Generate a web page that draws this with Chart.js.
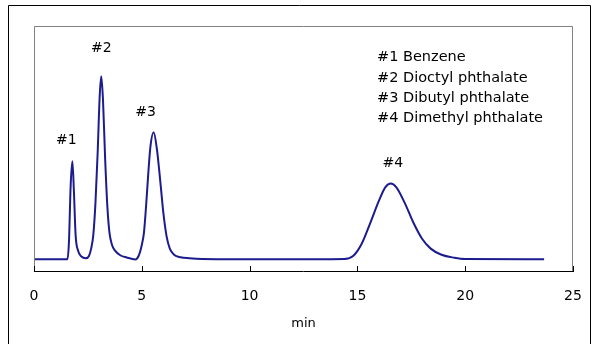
<!DOCTYPE html>
<html>
<head>
<meta charset="utf-8">
<script src="https://cdn.jsdelivr.net/npm/chart.js@4.4.1/dist/chart.umd.min.js"></script>
<style>
  html, body { margin:0; padding:0; background:#fff; }
  #wrap { position:relative; width:592px; height:344px; }
</style>
</head>
<body>
<div id="wrap"><canvas id="chart" width="592" height="344"></canvas></div>
<script>
// retention time (min) and detector signal
const times  = [0, 1.55, 1.62, 1.70, 1.78, 1.85, 1.93, 2.05, 2.2, 2.4, 2.55, 2.65, 2.75, 2.85, 2.95, 3.05, 3.12, 3.2, 3.3, 3.4, 3.5, 3.62, 3.75, 4.0, 4.3, 4.7,
                4.85, 5.0, 5.1, 5.2, 5.3, 5.4, 5.55, 5.7, 5.8, 5.9, 6.0, 6.15, 6.3, 6.5, 6.8, 7.2, 7.8, 10, 13, 14.4,
                14.8, 15.2, 15.6, 16.0, 16.3, 16.55, 16.8, 17.2, 17.6, 18.0, 18.4, 18.9, 19.5, 20.0, 23.66];
const signal = [5.2, 5.2, 12, 35, 45, 33, 15, 8.5, 6.3, 5.6, 6.5, 9.5, 15, 28, 48, 72, 79.6, 70, 46, 27, 16, 11, 8.8, 6.8, 5.9, 5.1,
                6.5, 11, 16, 27, 40, 51, 56.8, 50, 42, 33, 24, 14.5, 9.5, 7.0, 6.0, 5.6, 5.3, 5.2, 5.2, 5.3,
                6.5, 11.5, 20, 29, 34.5, 36, 34.5, 28, 20, 13.5, 9.5, 7.0, 5.8, 5.3, 5.2];
const peakTimes  = [1.78, 3.12, 5.55, 16.55];
const peakLabels = ['#1', '#2', '#3', '#4'];
const compounds  = ['#1 Benzene', '#2 Dioctyl phthalate', '#3 Dibutyl phthalate', '#4 Dimethyl phthalate'];
const xTicks = [0, 5, 10, 15, 20, 25];

const FONT = "'DejaVu Sans', sans-serif";

const decor = {
  id: 'decor',
  beforeDraw(chart) {
    const c = chart.ctx;
    c.save();
    c.fillStyle = '#fff';
    c.fillRect(0, 0, chart.width, chart.height);
    c.strokeStyle = '#000';
    c.lineWidth = 1;
    c.beginPath();
    c.moveTo(8.5, 344); c.lineTo(8.5, 5.5); c.lineTo(590.5, 5.5); c.lineTo(590.5, 344);
    c.stroke();
    c.restore();
  },
  afterDraw(chart) {
    const c = chart.ctx, a = chart.chartArea, x = chart.scales.x, y = chart.scales.y;
    c.save();
    // plot frame
    c.lineWidth = 1;
    c.strokeStyle = '#808080';
    c.beginPath();
    c.moveTo(a.left + 0.5, a.bottom); c.lineTo(a.left + 0.5, a.top + 0.5);
    c.lineTo(a.right - 0.5, a.top + 0.5); c.lineTo(a.right - 0.5, a.bottom);
    c.stroke();
    c.strokeStyle = '#000';
    c.beginPath();
    c.moveTo(a.left, a.bottom - 0.5); c.lineTo(a.right, a.bottom - 0.5);
    xTicks.forEach(t => {
      const px = Math.round(x.getPixelForValue(t)) + 0.5;
      c.moveTo(px, a.bottom); c.lineTo(px, a.bottom - 6);
    });
    c.stroke();
    // peak labels
    const offs = [[-6, -21], [0, -28], [-8, -20], [2, -20]];
    c.fillStyle = '#000';
    c.font = '14px ' + FONT;
    c.textAlign = 'center';
    c.textBaseline = 'middle';
    peakTimes.forEach((t, i) => {
      const k = times.indexOf(t);
      c.fillText(peakLabels[i], x.getPixelForValue(t) + offs[i][0], y.getPixelForValue(signal[k]) + offs[i][1]);
    });
    // compound list
    c.textAlign = 'left';
    c.font = '14.5px ' + FONT;
    compounds.forEach((s, i) => c.fillText(s, 377, 57.5 + i * 20.3));
    c.restore();
  }
};

new Chart(document.getElementById('chart'), {
  type: 'line',
  data: {
    labels: times,
    datasets: [{
      data: times.map((t, i) => ({ x: t, y: signal[i] })),
      borderColor: '#1c1c8e',
      borderWidth: 2,
      pointRadius: 0,
      cubicInterpolationMode: 'monotone',
      fill: false
    }]
  },
  options: {
    responsive: false,
    animation: false,
    layout: { padding: { left: 34, top: 26, right: 19, bottom: 0 } },
    plugins: { legend: { display: false }, tooltip: { enabled: false } },
    scales: {
      x: {
        type: 'linear', min: 0, max: 25,
        afterFit(s) { s.height = 72; s.paddingLeft = 0; s.paddingRight = 0; },
        afterBuildTicks(s) { s.ticks = xTicks.map(v => ({ value: v })); },
        grid: { display: false, drawTicks: false },
        border: { display: false },
        ticks: { color: '#000', font: { family: FONT, size: 14 }, padding: 16, maxRotation: 0 },
        title: { display: true, text: 'min', color: '#000', font: { family: FONT, size: 13 }, padding: { top: 0, bottom: 13 } }
      },
      y: { display: false, min: 0, max: 100 }
    }
  },
  plugins: [decor]
});
</script>
</body>
</html>
